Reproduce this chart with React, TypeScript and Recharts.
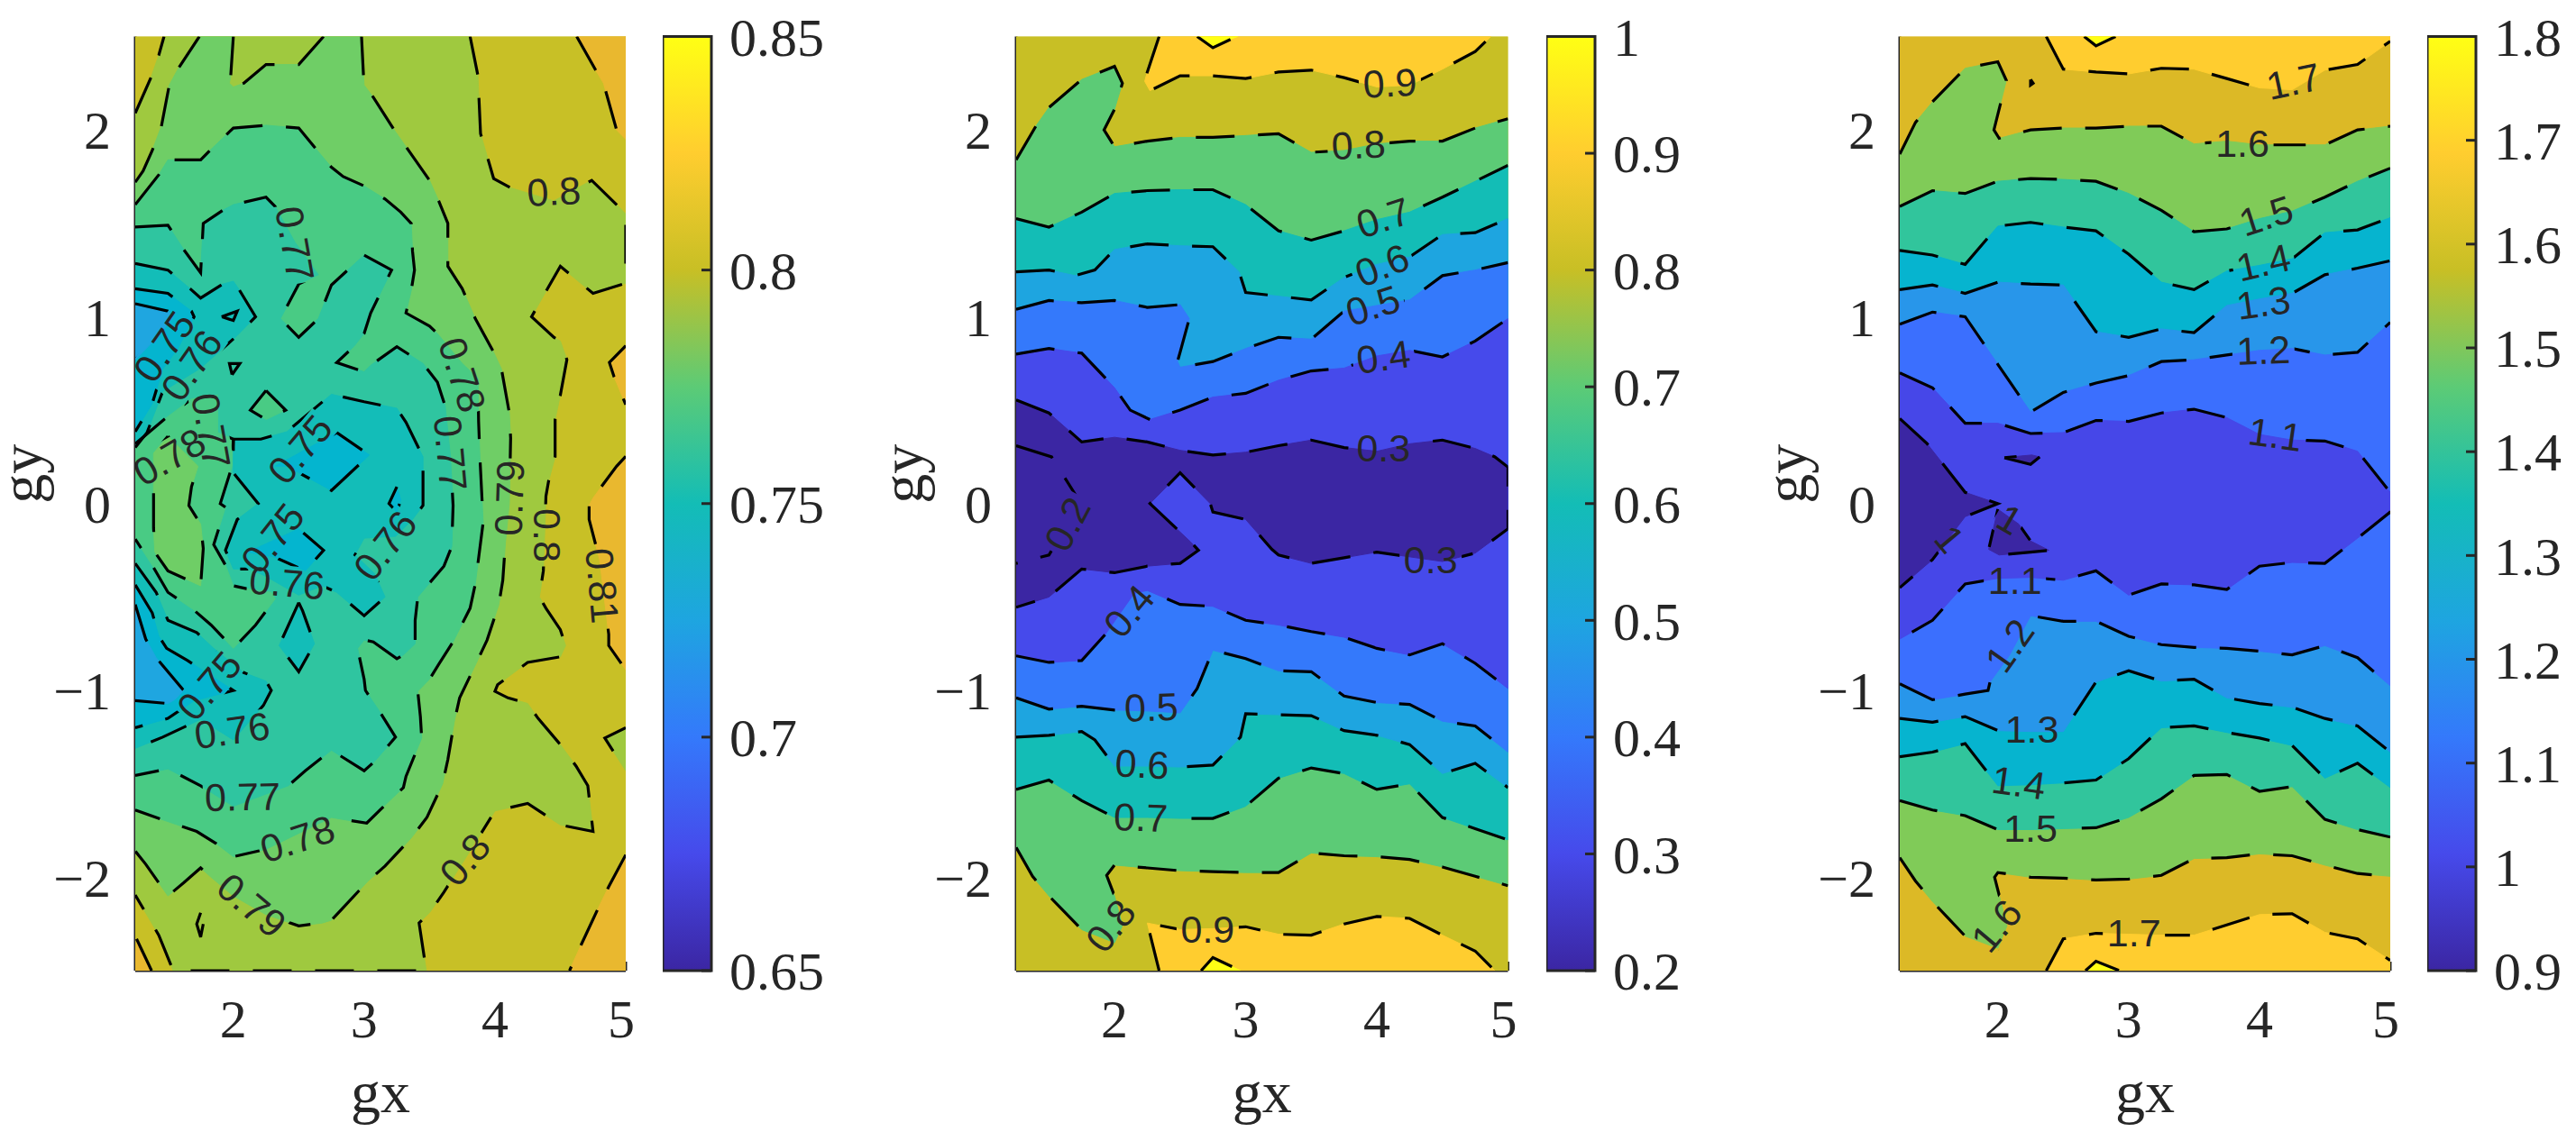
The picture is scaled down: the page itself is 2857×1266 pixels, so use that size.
import React from 'react';
import { ScatterChart, Scatter, XAxis, YAxis, BarChart, Bar } from 'recharts';

type Pt = [number, number];
type Lab = [string, number, number, number];

const xTicks = [2, 3, 4, 5];
const yTicks = [-2, -1, 0, 1, 2];
const xDomain = [1.25, 5];
const yDomain = [-2.5, 2.5];

// colormap stops, bottom to top
const mapColors = ['#3B26A3', '#464AEB', '#3479FB', '#1EA5E0', '#13BDB6', '#5CCB76', '#C8BF25', '#FFCD2F', '#FFFF14'];

const plotBox: Pt[] = [[1.25, 2.5], [5, 2.5], [5, -2.5], [1.25, -2.5]];

// ---- left panel contours
const a81tr: Pt[] = [[4.625, 2.5], [4.77, 2.32], [4.83, 2.25], [4.93, 2], [5, 1.95], [5, 2.5]];
const a81r1: Pt[] = [[5, 0.845], [4.875, 0.755], [4.91, 0.68], [5, 0.53]];
const a81r2: Pt[] = [[5, 0.253], [4.93, 0.2], [4.75, 0.03], [4.72, -0.01], [4.72, -0.085], [4.8, -0.3], [4.87, -0.7], [4.87, -0.76], [5, -0.89]];
const a81br: Pt[] = [[5, -1.88], [4.87, -2.05], [4.78, -2.18], [4.66, -2.36], [4.57, -2.5], [5, -2.5]];
const a81bl: Pt[] = [[1.26, -2.33], [1.375, -2.5], [1.25, -2.5]];
const a80tl: Pt[] = [[1.25, 2.09], [1.37, 2.28], [1.43, 2.4], [1.47, 2.5]];
const a80: Pt[] = [[3.81, 2.5], [3.87, 2.29], [3.89, 1.98], [3.99, 1.74], [4.12, 1.69], [4.45, 1.62], [4.74, 1.73], [4.93, 1.6], [5, 1.55], [5, 1.18], [4.75, 1.125], [4.5, 1.27], [4.41, 1.16], [4.28, 1], [4.45, 0.89], [4.5, 0.87], [4.55, 0.77], [4.5, 0.58], [4.46, 0.45], [4.46, 0.25], [4.41, 0.12], [4.39, 0.04], [4.37, -0.36], [4.34, -0.5], [4.39, -0.56], [4.5, -0.675], [4.54, -0.76], [4.5, -0.82], [4.25, -0.85], [4.02, -0.97], [4, -1.005], [4.1, -1.04], [4.25, -1.07], [4.33, -1.15], [4.5, -1.29], [4.62, -1.405], [4.71, -1.51], [4.75, -1.755], [4.5, -1.72], [4.37, -1.66], [4.25, -1.605], [4, -1.645], [3.89, -1.77], [3.61, -2.08], [3.5, -2.19], [3.42, -2.245], [3.475, -2.5], [1.54, -2.5], [1.43, -2.31], [1.25, -2.095]];
const a80r: Pt[] = [[5, -1.2], [4.84, -1.255], [5, -1.43]];
const a79tl: Pt[] = [[1.25, 1.72], [1.31, 1.78], [1.38, 1.89], [1.45, 2.02], [1.51, 2.24], [1.58, 2.33], [1.74, 2.5]];
const a79n: Pt[] = [[2, 2.5], [1.98, 2.29], [1.97, 2.25], [2, 2.23], [2.08, 2.25], [2.25, 2.35], [2.5, 2.35], [2.69, 2.5]];
const a79: Pt[] = [[2.98, 2.5], [2.995, 2.29], [3, 2.24], [3.07, 2.175], [3.23, 2], [3.33, 1.9], [3.5, 1.73], [3.57, 1.62], [3.64, 1.5], [3.64, 1.27], [3.75, 1.15], [3.85, 0.99], [3.99, 0.81], [4.05, 0.72], [4.11, 0.485], [4.12, 0.35], [4.11, 0], [4.08, -0.21], [4.06, -0.41], [4.03, -0.54], [3.94, -0.73], [3.86, -0.85], [3.73, -1.04], [3.69, -1.165], [3.64, -1.37], [3.6, -1.5], [3.48, -1.68], [3.36, -1.79], [3.16, -1.94], [3.03, -2.02], [2.83, -2.17], [2.75, -2.23], [2.68, -2.245], [2.5, -2.26], [2.25, -2.2], [2, -2.1], [1.83, -2], [1.75, -1.95], [1.62, -2.03], [1.5, -2.1], [1.33, -1.93], [1.25, -1.86]];
const a79spot: Pt[] = [[1.75, -2.19], [1.72, -2.25], [1.75, -2.32], [1.77, -2.25], [1.75, -2.19]];
const a78: Pt[] = [[1.25, 1.6], [1.43, 1.76], [1.5, 1.84], [1.75, 1.84], [1.82, 1.89], [2, 2.01], [2.25, 2.025], [2.5, 2.01], [2.63, 1.9], [2.75, 1.8], [2.84, 1.75], [3, 1.7], [3.16, 1.63], [3.28, 1.56], [3.36, 1.5], [3.37, 1.35], [3.385, 1.25], [3.36, 1.14], [3.32, 1.02], [3.5, 0.95], [3.56, 0.91], [3.75, 0.75], [3.87, 0.67], [3.875, 0.44], [3.885, 0.25], [3.91, -0.1], [3.85, -0.43], [3.81, -0.56], [3.68, -0.74], [3.57, -0.86], [3.5, -0.94], [3.41, -1.005], [3.43, -1.14], [3.44, -1.255], [3.39, -1.34], [3.32, -1.46], [3.3, -1.52], [3.15, -1.62], [3.02, -1.71], [2.83, -1.69], [2.75, -1.68], [2.25, -1.85], [2, -1.89], [1.87, -1.82], [1.72, -1.755], [1.45, -1.69], [1.25, -1.64]];
const a78patch: Pt[] = [[1.5, 0.36], [1.39, 0.27], [1.39, -0.13], [1.4, -0.26], [1.5, -0.36], [1.75, -0.44], [1.77, -0.24], [1.75, -0.11], [1.66, -0.01], [1.68, 0.09], [1.73, 0.2], [1.5, 0.36]];
const a77: Pt[] = [[1.25, 1.48], [1.5, 1.49], [1.62, 1.36], [1.75, 1.235], [1.77, 1.5], [1.92, 1.57], [2, 1.6], [2.25, 1.64], [2.32, 1.59], [2.47, 1.4], [2.65, 1.225], [2.5, 1.175], [2.36, 0.99], [2.5, 0.89], [2.65, 0.99], [2.75, 1.17], [3, 1.33], [3.21, 1.25], [3.13, 1.135], [3.05, 1.02], [3, 0.91], [2.92, 0.84], [2.79, 0.755], [3, 0.705], [3.05, 0.74], [3.25, 0.84], [3.45, 0.75], [3.56, 0.65], [3.62, 0.52], [3.66, 0.25], [3.68, -0.01], [3.67, -0.23], [3.61, -0.335], [3.5, -0.425], [3.41, -0.5], [3.39, -0.625], [3.39, -0.75], [3.3, -0.81], [3.25, -0.83], [3.07, -0.74], [3, -0.73], [2.95, -0.775], [3, -0.94], [3.01, -1], [3.12, -1.115], [3.24, -1.25], [3.08, -1.38], [3, -1.43], [2.75, -1.32], [2.55, -1.43], [2.42, -1.51], [2, -1.62], [1.75, -1.51], [1.5, -1.42], [1.25, -1.455]];
const a77pocket: Pt[] = [[1.25, 0.32], [1.47, 0.45], [1.68, 0.56], [1.88, 0.58], [1.88, 0.38], [2, 0.345], [1.99, 0.2], [1.9, 0], [1.94, -0.02], [1.85, -0.22], [1.94, -0.33], [2, -0.44], [2.13, -0.46], [2.29, -0.475], [2.32, -0.51], [2.17, -0.65], [2, -0.775], [1.83, -0.65], [1.69, -0.565], [1.5, -0.475], [1.38, -0.33], [1.25, -0.19]];
const a77small: Pt[] = [[2.25, 0.605], [2.13, 0.5], [2.25, 0.45], [2.4, 0.5], [2.25, 0.605]];
const a76top: Pt[] = [[1.25, 1.285], [1.5, 1.25], [1.67, 1.15], [1.75, 1.1], [1.92, 1.175], [2, 1.19], [2.04, 1.15], [2.17, 1], [2.03, 0.9], [1.75, 0.725], [1.46, 0.6], [1.34, 0.38], [1.25, 0.3]];
const a76mid: Pt[] = [[2, 0.345], [2.21, 0.345], [2.41, 0.385], [2.75, 0.585], [3, 0.545], [3.25, 0.51], [3.32, 0.435], [3.45, 0.25], [3.45, 0.135], [3.45, -0.01], [3.37, -0.085], [3.24, -0.175], [3, -0.185], [2.93, -0.275], [3.08, -0.375], [3.16, -0.5], [3, -0.6], [2.79, -0.475], [2.68, -0.44], [2.5, -0.49], [2.25, -0.39], [2.13, -0.35], [2, -0.35], [1.94, -0.25], [2.03, -0.085], [2.19, 0], [2, 0.165], [2, 0.345]];
const a76diamond: Pt[] = [[2.5, -0.53], [2.35, -0.76], [2.5, -0.9], [2.62, -0.75], [2.53, -0.575]];
const a76low: Pt[] = [[1.25, -0.32], [1.41, -0.475], [1.5, -0.625], [1.72, -0.69], [1.85, -0.775], [2.08, -0.905], [2.25, -0.95], [2.29, -1], [2.23, -1.08], [2, -1.265], [1.75, -1.155], [1.46, -1.25], [1.25, -1.31]];
const a76a: Pt[] = [[1.91, 1], [2.03, 1.03], [2, 0.98], [1.91, 1]];
const a76b: Pt[] = [[1.99, 0.69], [1.97, 0.75], [2.05, 0.75], [1.99, 0.69]];
const a75top: Pt[] = [[1.25, 1.15], [1.5, 1.125], [1.68, 1.03], [1.7, 1], [1.58, 0.835], [1.46, 0.72], [1.38, 0.535], [1.25, 0.385]];
const a75mid: Pt[] = [[2.32, 0.2], [2.79, 0.38], [3.04, 0.26], [2.75, 0.07], [2.41, 0.2]];
const a75dot: Pt[] = [[3.25, 0.09], [3.19, 0], [3.25, -0.045], [3.28, 0.02], [3.25, 0.09]];
const a75c: Pt[] = [[2.11, -0.26], [2.5, -0.135], [2.69, -0.25], [2.55, -0.36], [2.31, -0.285]];
const a75low: Pt[] = [[1.25, -0.435], [1.38, -0.585], [1.43, -0.71], [1.49, -0.775], [1.65, -0.84], [2, -1], [1.7, -1.055], [1.5, -1.15], [1.25, -1.2]];
const a74top: Pt[] = [[1.25, 1.07], [1.5, 1.03], [1.54, 1], [1.43, 0.9], [1.25, 0.77]];
const a74low: Pt[] = [[1.25, -0.54], [1.33, -0.725], [1.41, -0.825], [1.62, -1], [1.55, -1.05], [1.5, -1.07], [1.25, -1.055]];

const labelsA: Lab[] = [['0.8', 4.45, 1.67, -3], ['0.77', 2.47, 1.39, 80], ['0.75', 1.47, 0.84, -55], ['0.76', 1.68, 0.74, -55], ['0.78', 1.51, 0.25, -30], ['0.77', 1.83, 0.39, 80], ['0.75', 2.51, 0.29, -50], ['0.78', 3.75, 0.69, 72], ['0.77', 3.66, 0.27, 85], ['0.79', 4.11, 0.03, -88], ['0.8', 4.4, -0.17, 90], ['0.81', 4.82, -0.44, 85], ['0.75', 2.3, -0.185, -52], ['0.76', 2.41, -0.425, 5], ['0.76', 3.16, -0.225, -52], ['0.75', 1.815, -0.975, -50], ['0.76', 1.99, -1.215, -8], ['0.77', 2.07, -1.57, -1], ['0.78', 2.49, -1.795, -18], ['0.79', 2.14, -2.15, 40], ['0.8', 3.77, -1.905, -50]];

// ---- middle panel contours
const b10u: Pt[] = [[2.63, 2.5], [2.75, 2.44], [2.9, 2.49], [2.94, 2.5]];
const b09u: Pt[] = [[2.34, 2.5], [2.25, 2.31], [2.23, 2.26], [2.27, 2.21], [2.5, 2.29], [2.75, 2.29], [3, 2.275], [3.25, 2.31], [3.5, 2.32], [3.75, 2.28], [4, 2.23], [4.25, 2.24], [4.5, 2.325], [4.75, 2.42], [4.87, 2.5]];
const b08u: Pt[] = [[1.25, 1.84], [1.4, 2.02], [1.5, 2.12], [1.75, 2.27], [2, 2.34], [2.06, 2.25], [2, 2.11], [1.92, 2], [2, 1.91], [2.25, 1.94], [2.5, 1.96], [2.75, 1.96], [3, 1.97], [3.25, 1.98], [3.5, 1.88], [3.75, 1.89], [4, 1.925], [4.25, 1.94], [4.5, 1.94], [4.75, 2.01], [5, 2.06]];
const b07u: Pt[] = [[1.25, 1.525], [1.5, 1.48], [1.75, 1.56], [2, 1.66], [2.25, 1.675], [2.5, 1.68], [2.75, 1.68], [3, 1.6], [3.25, 1.46], [3.5, 1.41], [3.75, 1.46], [4, 1.52], [4.25, 1.56], [4.5, 1.64], [4.75, 1.725], [5, 1.81]];
const b06u: Pt[] = [[1.25, 1.24], [1.5, 1.25], [1.7, 1.22], [1.85, 1.25], [2, 1.36], [2.25, 1.39], [2.5, 1.38], [2.75, 1.375], [2.95, 1.24], [3, 1.13], [3.25, 1.11], [3.5, 1.09], [3.75, 1.21], [4, 1.28], [4.25, 1.32], [4.5, 1.44], [4.75, 1.45], [5, 1.525]];
const b05u: Pt[] = [[1.25, 1.04], [1.5, 1.087], [1.75, 1.075], [2, 1.087], [2.25, 1.05], [2.5, 1.065], [2.57, 0.99], [2.5, 0.81], [2.48, 0.76], [2.5, 0.73], [2.75, 0.76], [3, 0.83], [3.25, 0.89], [3.5, 0.88], [3.75, 1.03], [4, 1.06], [4.25, 1.09], [4.5, 1.22], [4.75, 1.25], [5, 1.29]];
const b04u: Pt[] = [[1.25, 0.8], [1.5, 0.83], [1.75, 0.805], [2, 0.62], [2.12, 0.5], [2.27, 0.45], [2.5, 0.5], [2.75, 0.57], [3, 0.59], [3.25, 0.66], [3.5, 0.71], [3.75, 0.725], [4, 0.79], [4.25, 0.82], [4.5, 0.785], [4.75, 0.87], [5, 0.99]];
const b03: Pt[] = [[1.25, 0.555], [1.5, 0.485], [1.75, 0.33], [2, 0.355], [2.25, 0.33], [2.5, 0.285], [2.75, 0.26], [3, 0.275], [3.25, 0.31], [3.5, 0.34], [3.75, 0.3], [4, 0.28], [4.25, 0.32], [4.5, 0.34], [4.75, 0.295], [4.9, 0.25], [5, 0.195], [5, -0.135], [4.75, -0.265], [4.5, -0.31], [4.25, -0.285], [4, -0.26], [3.75, -0.29], [3.5, -0.32], [3.25, -0.275], [3.2, -0.245], [3, -0.085], [2.75, -0.045], [2.73, 0], [2.5, 0.165], [2.27, 0], [2.58, -0.205], [2.64, -0.25], [2.5, -0.32], [2.25, -0.335], [2, -0.37], [1.75, -0.35], [1.5, -0.5], [1.25, -0.555]];
const b02: Pt[] = [[1.25, 0.31], [1.52, 0.25], [1.7, 0.05], [1.75, -0.03], [1.64, -0.11], [1.5, -0.275], [1.25, -0.32]];
const b04l: Pt[] = [[1.25, -0.815], [1.5, -0.85], [1.75, -0.84], [1.93, -0.7], [2.15, -0.48], [2.25, -0.465], [2.5, -0.54], [2.75, -0.55], [3, -0.625], [3.25, -0.65], [3.5, -0.685], [3.75, -0.715], [4, -0.775], [4.25, -0.81], [4.5, -0.75], [4.75, -0.855], [5, -0.99]];
const b05l: Pt[] = [[1.25, -1.04], [1.5, -1.1], [1.75, -1.085], [2, -1.105], [2.25, -1.11], [2.5, -1.12], [2.63, -0.99], [2.75, -0.785], [3, -0.83], [3.25, -0.895], [3.5, -0.9], [3.75, -1.03], [4, -1.065], [4.25, -1.075], [4.5, -1.165], [4.75, -1.19], [5, -1.33]];
const b06l: Pt[] = [[1.25, -1.25], [1.5, -1.24], [1.75, -1.22], [1.85, -1.265], [2, -1.405], [2.25, -1.405], [2.5, -1.41], [2.75, -1.4], [2.96, -1.25], [3, -1.125], [3.25, -1.13], [3.5, -1.135], [3.75, -1.215], [4, -1.24], [4.25, -1.29], [4.5, -1.445], [4.75, -1.39], [5, -1.52]];
const b07l: Pt[] = [[1.25, -1.53], [1.5, -1.48], [1.75, -1.59], [2, -1.68], [2.25, -1.68], [2.5, -1.685], [2.75, -1.685], [3, -1.62], [3.25, -1.47], [3.5, -1.415], [3.75, -1.445], [4, -1.53], [4.25, -1.5], [4.5, -1.68], [4.75, -1.74], [5, -1.8]];
const b08l: Pt[] = [[1.25, -1.84], [1.375, -1.995], [1.5, -2.1], [1.75, -2.28], [2, -2.35], [2.06, -2.26], [2, -2.1], [1.94, -1.99], [2, -1.935], [2.25, -1.95], [2.5, -1.965], [2.75, -1.97], [3, -1.975], [3.25, -1.975], [3.5, -1.87], [3.75, -1.885], [4, -1.89], [4.25, -1.905], [4.5, -1.945], [4.75, -1.995], [5, -2.045]];
const b09l: Pt[] = [[2.34, -2.5], [2.25, -2.245], [2.5, -2.28], [2.75, -2.275], [3, -2.265], [3.25, -2.305], [3.5, -2.31], [3.75, -2.25], [4, -2.21], [4.25, -2.22], [4.5, -2.31], [4.75, -2.395], [4.9, -2.5]];
const b10l: Pt[] = [[2.66, -2.5], [2.75, -2.43], [2.96, -2.5]];

const labelsB: Lab[] = [['0.9', 4.1, 2.25, -3], ['0.8', 3.86, 1.92, -3], ['0.7', 4.05, 1.53, -18], ['0.6', 4.04, 1.275, -22], ['0.5', 3.97, 1.06, -18], ['0.4', 4.05, 0.785, -8], ['0.3', 4.05, 0.3, 0], ['0.2', 1.64, -0.11, -62], ['0.3', 4.41, -0.3, 0], ['0.4', 2.11, -0.575, -50], ['0.5', 2.28, -1.09, -2], ['0.6', 2.21, -1.395, 3], ['0.7', 2.2, -1.68, 2], ['0.8', 1.97, -2.26, -52], ['0.9', 2.71, -2.28, 0]];

// ---- right panel contours
const c18u: Pt[] = [[2.66, 2.5], [2.75, 2.45], [2.9, 2.5]];
const c17u: Pt[] = [[2.37, 2.5], [2.5, 2.325], [2.75, 2.31], [3, 2.3], [3.25, 2.33], [3.5, 2.325], [3.75, 2.275], [4, 2.225], [4.25, 2.215], [4.5, 2.32], [4.75, 2.35], [5, 2.475], [5, 2.5]];
const c17spot: Pt[] = [[2.25, 2.27], [2.27, 2.25], [2.25, 2.24], [2.25, 2.27]];
const c16u: Pt[] = [[1.25, 1.87], [1.37, 2.04], [1.5, 2.15], [1.75, 2.33], [2, 2.365], [2.065, 2.265], [1.97, 2], [2.01, 1.955], [2.25, 2], [2.5, 2.01], [2.75, 2.01], [3, 2.02], [3.25, 2.02], [3.5, 1.925], [3.75, 1.94], [4, 1.92], [4.25, 1.92], [4.5, 1.92], [4.75, 2], [5, 2.02]];
const c15u: Pt[] = [[1.25, 1.59], [1.5, 1.675], [1.75, 1.66], [2, 1.725], [2.25, 1.74], [2.5, 1.735], [2.75, 1.725], [3, 1.66], [3.25, 1.57], [3.5, 1.455], [3.75, 1.47], [4, 1.525], [4.25, 1.565], [4.5, 1.64], [4.75, 1.725], [5, 1.795]];
const c14u: Pt[] = [[1.25, 1.355], [1.5, 1.33], [1.75, 1.28], [2, 1.485], [2.25, 1.505], [2.5, 1.48], [2.75, 1.46], [3, 1.335], [3.25, 1.185], [3.5, 1.145], [3.75, 1.245], [4, 1.275], [4.25, 1.31], [4.5, 1.45], [4.75, 1.465], [5, 1.53]];
const c13u: Pt[] = [[1.25, 1.145], [1.5, 1.17], [1.75, 1.125], [2, 1.185], [2.25, 1.175], [2.5, 1.17], [2.75, 0.92], [3, 0.89], [3.25, 0.935], [3.5, 0.915], [3.75, 1.06], [4, 1.095], [4.25, 1.125], [4.5, 1.225], [4.75, 1.26], [5, 1.3]];
const c12u: Pt[] = [[1.25, 0.96], [1.5, 1.025], [1.75, 1], [2, 0.745], [2.25, 0.49], [2.5, 0.595], [2.75, 0.645], [3, 0.685], [3.25, 0.76], [3.5, 0.77], [3.75, 0.795], [4, 0.82], [4.25, 0.83], [4.5, 0.795], [4.75, 0.81], [5, 0.97]];
const c11: Pt[] = [[1.25, 0.7], [1.5, 0.62], [1.75, 0.43], [2, 0.43], [2.25, 0.375], [2.5, 0.38], [2.75, 0.445], [3, 0.44], [3.25, 0.485], [3.5, 0.505], [3.75, 0.46], [4, 0.37], [4.25, 0.34], [4.5, 0.335], [4.75, 0.28], [5, 0.06], [5, -0.045], [4.75, -0.185], [4.5, -0.32], [4.25, -0.315], [4, -0.335], [3.75, -0.46], [3.5, -0.435], [3.25, -0.43], [3, -0.49], [2.75, -0.36], [2.5, -0.41], [2.25, -0.395], [2, -0.4], [1.75, -0.43], [1.5, -0.625], [1.25, -0.725]];
const c10a: Pt[] = [[1.25, 0.455], [1.46, 0.32], [1.75, 0.06], [2, 0], [1.75, -0.07], [1.5, -0.3], [1.25, -0.45]];
const c10b: Pt[] = [[2, -0.03], [1.93, -0.245], [2.01, -0.275], [2.25, -0.26], [2.39, -0.25], [2.25, -0.2], [2.16, -0.11], [2, -0.03]];
const c10c: Pt[] = [[2.05, 0.245], [2.25, 0.21], [2.32, 0.25], [2.26, 0.26], [2.18, 0.255], [2.05, 0.245]];
const c12l: Pt[] = [[1.25, -0.965], [1.5, -1.05], [1.75, -1.02], [1.925, -1], [1.94, -0.955], [2.09, -0.81], [2.25, -0.6], [2.5, -0.63], [2.75, -0.63], [3, -0.71], [3.25, -0.755], [3.5, -0.77], [3.75, -0.775], [4, -0.79], [4.25, -0.81], [4.5, -0.76], [4.75, -0.825], [5, -0.975]];
const c13l: Pt[] = [[1.25, -1.15], [1.5, -1.17], [1.75, -1.14], [2, -1.215], [2.25, -1.22], [2.5, -1.22], [2.75, -0.955], [3, -0.895], [3.25, -0.95], [3.5, -0.94], [3.75, -1.04], [4, -1.07], [4.25, -1.09], [4.5, -1.15], [4.75, -1.19], [5, -1.33]];
const c14l: Pt[] = [[1.25, -1.355], [1.5, -1.33], [1.75, -1.285], [2, -1.51], [2.25, -1.505], [2.5, -1.495], [2.75, -1.48], [3, -1.365], [3.25, -1.2], [3.5, -1.19], [3.75, -1.225], [4, -1.255], [4.25, -1.295], [4.5, -1.47], [4.75, -1.39], [5, -1.52]];
const c15l: Pt[] = [[1.25, -1.59], [1.5, -1.64], [1.75, -1.67], [2, -1.745], [2.25, -1.745], [2.5, -1.74], [2.75, -1.735], [3, -1.68], [3.25, -1.58], [3.5, -1.455], [3.75, -1.45], [4, -1.54], [4.25, -1.515], [4.5, -1.69], [4.75, -1.745], [5, -1.785]];
const c16l: Pt[] = [[1.25, -1.895], [1.37, -2.02], [1.5, -2.13], [1.75, -2.315], [2, -2.38], [2.07, -2.26], [1.975, -2], [2, -1.975], [2.25, -2], [2.5, -2.005], [2.75, -2.015], [3, -2.01], [3.25, -1.99], [3.5, -1.9], [3.75, -1.895], [4, -1.875], [4.25, -1.885], [4.5, -1.935], [4.75, -1.98], [5, -1.995]];
const c17l: Pt[] = [[2.37, -2.5], [2.5, -2.33], [2.75, -2.3], [3, -2.305], [3.25, -2.31], [3.5, -2.31], [3.75, -2.255], [4, -2.2], [4.25, -2.195], [4.5, -2.295], [4.75, -2.33], [5, -2.445], [5, -2.5]];
const c18l: Pt[] = [[2.67, -2.5], [2.75, -2.45], [2.93, -2.5]];

const labelsC: Lab[] = [['1.7', 4.26, 2.26, -12], ['1.6', 3.87, 1.93, 0], ['1.5', 4.05, 1.54, -18], ['1.4', 4.03, 1.29, -13], ['1.3', 4.03, 1.075, -8], ['1.2', 4.03, 0.82, -2], ['1.1', 4.12, 0.37, 8], ['1', 1.63, -0.19, 50], ['1', 2.09, -0.085, 30], ['1.1', 2.13, -0.41, 0], ['1.2', 2.09, -0.76, -55], ['1.3', 2.26, -1.205, 0], ['1.4', 2.16, -1.495, 8], ['1.5', 2.25, -1.74, 0], ['1.6', 1.99, -2.26, -50], ['1.7', 3.04, -2.295, 0]];

// colorbar ranges and ticks
const barA = { domain: [0.65, 0.85], ticks: [0.65, 0.7, 0.75, 0.8, 0.85] };
const barB = { domain: [0.2, 1], ticks: [0.2, 0.3, 0.4, 0.5, 0.6, 0.7, 0.8, 0.9, 1] };
const barC = { domain: [0.9, 1.8], ticks: [0.9, 1, 1.1, 1.2, 1.3, 1.4, 1.5, 1.6, 1.7, 1.8] };

const ring = (upper: Pt[], lower: Pt[]): Pt[] => [...upper, ...[...lower].reverse()];
const toRows = (pts: Pt[]) => pts.map(([x, y]) => ({ x, y }));

const fillsA: [Pt[], string][] = [
  [plotBox, '#C8C026'],
  [a81tr, '#E9B82F'], [a81r1, '#E9B82F'], [a81r2, '#E9B82F'], [a81br, '#E9B82F'], [a81bl, '#E9B82F'],
  [[...a80tl, ...a80], '#9FC93F'], [a80r, '#9FC93F'],
  [[...a79tl, ...a79n, ...a79], '#6FCE66'],
  [a78, '#49CB84'],
  [a77, '#2FC5A0'], [a77pocket, '#49CB84'], [a77small, '#49CB84'], [a78patch, '#6FCE66'],
  [a76top, '#13BDB8'], [a76mid, '#13BDB8'], [a76diamond, '#13BDB8'], [a76low, '#13BDB8'],
  [a75top, '#04B5CF'], [a75mid, '#04B5CF'], [a75dot, '#04B5CF'], [a75c, '#04B5CF'], [a75low, '#04B5CF'],
  [a74top, '#1FA6E0'], [a74low, '#1FA6E0'],
];
const linesA: Pt[][] = [a81tr.slice(0, -1), a81r1, a81r2, a81br.slice(0, -1), a81bl.slice(0, -1), a80tl, a80, a80r, a79tl, a79n, a79, a79spot, a78, a78patch, a77, a77pocket, a77small, a76top, a76mid, [...a76diamond, a76diamond[0]], a76low, a76a, a76b, a75top, [...a75mid, a75mid[0]], a75dot, [...a75c, a75c[0]], a75low, a74top, a74low];

const fillsB: [Pt[], string][] = [
  [plotBox, '#C8BF25'],
  [b09u, '#FFCD2F'], [b09l, '#FFCD2F'], [b10u, '#FFFF14'], [b10l, '#FFFF14'],
  [ring(b08u, b08l), '#5CCB76'],
  [ring(b07u, b07l), '#13BDB6'],
  [ring(b06u, b06l), '#1EA5E0'],
  [ring(b05u, b05l), '#3479FB'],
  [ring(b04u, b04l), '#464AEB'],
  [b03, '#3B26A3'],
];
const linesB: Pt[][] = [b10u, b09u, b08u, b07u, b06u, b05u, b04u, b03, b02, b04l, b05l, b06l, b07l, b08l, b09l, b10l];

const fillsC: [Pt[], string][] = [
  [plotBox, '#DCB926'],
  [c17u, '#FFCD2F'], [c17l, '#FFCD2F'], [c18u, '#FFFF14'], [c18l, '#FFFF14'],
  [ring(c16u, c16l), '#80CB58'],
  [ring(c15u, c15l), '#31C59C'],
  [ring(c14u, c14l), '#06B4CF'],
  [ring(c13u, c13l), '#2896EA'],
  [ring(c12u, c12l), '#3B6FFE'],
  [c11, '#4647E8'],
  [c10a, '#3B26A3'], [c10b, '#3B26A3'], [c10c, '#3B26A3'],
];
const linesC: Pt[][] = [c18u, c17u.slice(0, -1), c17spot, c16u, c15u, c14u, c13u, c12u, c11, c10a, c10b, c10c, c12l, c13l, c14l, c15l, c16l, c17l.slice(0, -1), c18l];

const INK = '#262626';
const CHART_H = 1266;
const TOP = 40.5;
const BOTTOM = 1077;
const AXIS_W = 149;
const serif = 'Liberation Serif';
const axisStroke = { stroke: INK, strokeWidth: 3 };

interface PanelProps {
  id: string;
  left: number;
  plotW: number;
  fills: [Pt[], string][];
  lines: Pt[][];
  labels: Lab[];
}

function ContourPanel({ id, left, plotW, fills, lines, labels }: PanelProps): React.ReactElement {
  const plotH = BOTTOM - TOP;
  const tickFont = { fontFamily: serif, fontSize: 60, fill: INK };
  const maskId = `gaps-${id}`;
  const labelRows = labels.map(([text, x, y, angle]) => ({ text, x, y, angle }));

  return (
    <div style={{ position: 'absolute', left: left - AXIS_W, top: 0 }}>
      <ScatterChart
        width={AXIS_W + plotW + 10}
        height={CHART_H}
        margin={{ top: TOP, right: 10, bottom: 0, left: 0 }}
      >
        <defs>
          {/* clabel style gaps: contour lines stop around each label */}
          <mask id={maskId} maskUnits="userSpaceOnUse" x={0} y={0} width={AXIS_W + plotW + 10} height={CHART_H}>
            <rect x={0} y={0} width={AXIS_W + plotW + 10} height={CHART_H} fill="#fff" />
            {labels.map(([text, x, y, angle], i) => {
              const cx = AXIS_W + ((x - 1.25) / 3.75) * plotW;
              const cy = TOP + ((2.5 - y) / 5) * plotH;
              const w = text.length * 19 + 12;
              return (
                <rect
                  key={i}
                  x={cx - w / 2}
                  y={cy - 19}
                  width={w}
                  height={38}
                  fill="#000"
                  transform={`rotate(${angle} ${cx} ${cy})`}
                />
              );
            })}
          </mask>
        </defs>
        {fills.map(([pts, color], i) => (
          <Scatter
            key={`f${i}`}
            data={toRows(pts)}
            isAnimationActive={false}
            shape={() => null}
            line={{ fill: color, stroke: color, strokeWidth: 1 }}
            lineJointType="linearClosed"
          />
        ))}
        {lines.map((pts, i) => (
          <Scatter
            key={`l${i}`}
            data={toRows(pts)}
            isAnimationActive={false}
            shape={() => null}
            line={{ stroke: '#000', strokeWidth: 3.2, strokeDasharray: '43 26', fill: 'none', mask: `url(#${maskId})` }}
            lineJointType="linear"
          />
        ))}
        <Scatter
          data={labelRows}
          isAnimationActive={false}
          shape={(p: any) => (
            <text
              x={p.cx}
              y={p.cy}
              fontFamily="Liberation Sans"
              fontSize={43}
              fill={INK}
              textAnchor="middle"
              dominantBaseline="central"
              transform={`rotate(${p.payload.angle} ${p.cx} ${p.cy})`}
            >
              {p.payload.text}
            </text>
          )}
        />
        <XAxis
          type="number"
          dataKey="x"
          domain={xDomain}
          ticks={xTicks}
          allowDataOverflow
          height={CHART_H - BOTTOM}
          axisLine={axisStroke}
          tickLine={axisStroke}
          tickSize={-10}
          tickMargin={41}
          tick={tickFont}
          label={{ value: 'gx', position: 'insideBottom', offset: 32, fontFamily: serif, fontSize: 66, fill: INK }}
        />
        <YAxis
          type="number"
          dataKey="y"
          domain={yDomain}
          ticks={yTicks}
          allowDataOverflow
          width={AXIS_W}
          axisLine={axisStroke}
          tickLine={axisStroke}
          tickSize={-10}
          tickMargin={37}
          tick={tickFont}
          tickFormatter={(v: number) => (v < 0 ? `\u2212${-v}` : `${v}`)}
          label={{ value: 'gy', angle: -90, position: 'insideLeft', offset: 34, dx: -12, fontFamily: serif, fontSize: 66, fill: INK }}
        />
        <XAxis
          xAxisId="top"
          orientation="top"
          type="number"
          domain={xDomain}
          ticks={xTicks}
          allowDataOverflow
          height={0}
          axisLine={axisStroke}
          tickLine={axisStroke}
          tickSize={-10}
          tick={false}
        />
        <YAxis
          yAxisId="right"
          orientation="right"
          type="number"
          domain={yDomain}
          ticks={yTicks}
          allowDataOverflow
          width={0}
          axisLine={axisStroke}
          tickLine={axisStroke}
          tickSize={-10}
          tick={false}
        />
      </ScatterChart>
    </div>
  );
}

function ColorBar({ id, left, width, domain, ticks }: { id: string; left: number; width: number; domain: number[]; ticks: number[] }): React.ReactElement {
  const rows = [{ name: 'c', span: domain }];
  return (
    <div style={{ position: 'absolute', left, top: 0 }}>
      <BarChart
        width={width + 130}
        height={CHART_H}
        data={rows}
        barCategoryGap={0}
        margin={{ top: TOP, right: 0, bottom: CHART_H - BOTTOM, left: 0 }}
      >
        <defs>
          <linearGradient id={`map-${id}`} x1="0" y1="1" x2="0" y2="0">
            {mapColors.map((c, i) => (
              <stop key={c} offset={i / (mapColors.length - 1)} stopColor={c} />
            ))}
          </linearGradient>
        </defs>
        <XAxis dataKey="name" hide />
        <Bar dataKey="span" fill={`url(#map-${id})`} stroke={INK} strokeWidth={3} isAnimationActive={false} />
        <YAxis
          orientation="right"
          type="number"
          domain={domain}
          ticks={ticks}
          width={130}
          axisLine={false}
          tickLine={axisStroke}
          tickSize={-11}
          tickMargin={31}
          interval={0}
          tick={{ fontFamily: serif, fontSize: 60, fill: INK }}
        />
      </BarChart>
    </div>
  );
}

export default function App(): React.ReactElement {
  return (
    <div style={{ position: 'absolute', left: 0, top: 0, width: 2857, height: CHART_H, background: '#fff', overflow: 'hidden' }}>
      <ContourPanel id="a" left={149.5} plotW={544} fills={fillsA} lines={linesA} labels={labelsA} />
      <ColorBar id="a" left={734.5} width={54} domain={barA.domain} ticks={barA.ticks} />
      <ContourPanel id="b" left={1127} plotW={545.5} fills={fillsB} lines={linesB} labels={labelsB} />
      <ColorBar id="b" left={1714.5} width={54} domain={barB.domain} ticks={barB.ticks} />
      <ContourPanel id="c" left={2106.5} plotW={544} fills={fillsC} lines={linesC} labels={labelsC} />
      <ColorBar id="c" left={2691.5} width={54} domain={barC.domain} ticks={barC.ticks} />
    </div>
  );
}
